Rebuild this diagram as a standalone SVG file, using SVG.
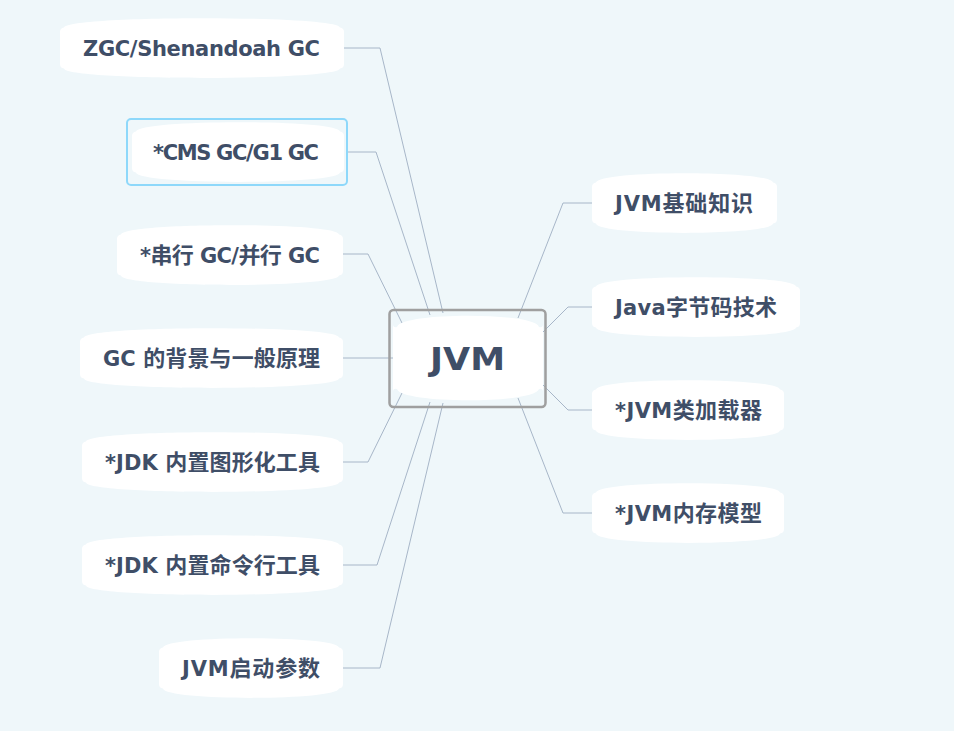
<svg xmlns="http://www.w3.org/2000/svg" width="954" height="731" viewBox="0 0 954 731">
<style>
.bg{fill:#EFF7FA}
.node{fill:#FFFFFF}
.lbl{font-family:"DejaVu Sans","Noto Sans CJK SC",sans-serif;font-weight:bold;font-size:21px;fill:#3F4E67}
.cjk{font-family:"Noto Sans CJK SC",sans-serif;font-size:22px;font-weight:bold}
.root{font-family:"DejaVu Sans","Noto Sans CJK SC",sans-serif;font-weight:bold;font-size:32px;fill:#3F4E67}
.conn{fill:none;stroke:#A7B6C8;stroke-width:1}
</style>
<rect class="bg" x="0" y="0" width="954" height="731"/>
<g id="connectors">
<polyline class="conn" points="344,48 380,48 443,313"/>
<polyline class="conn" points="347,152 376,152 430,315"/>
<polyline class="conn" points="343,254 368,254 402,323"/>
<polyline class="conn" points="343,358 393,358"/>
<polyline class="conn" points="343,462 368,462 402,393"/>
<polyline class="conn" points="343,565 377,565 430,402"/>
<polyline class="conn" points="343,668 380,668 443,403"/>
<polyline class="conn" points="592,203 563,203 518,318"/>
<polyline class="conn" points="592,307 568,307 543,332"/>
<polyline class="conn" points="592,410 568,410 543,385"/>
<polyline class="conn" points="592,513 563,513 518,398"/>
</g>
<g id="root">
<rect x="389.5" y="310" width="156" height="97" rx="4" fill="none" stroke="#9F9F9F" stroke-width="2.5"/>
<path class="node" d="M393,324 Q393,328 397,327 C401,312 535,312 539,327 Q543,328 543,324 L543,392 Q543,388 539,389 C535,404 401,404 397,389 Q393,388 393,392 Z"/>
<text class="root" x="430" y="370" textLength="75" lengthAdjust="spacingAndGlyphs">JVM</text>
</g>
<g id="n-zgc">
<path class="node" d="M60,32 Q60,28 64,27.5 C66,15 338,15 340,27.5 Q344,28 344,32 L344,64 Q344,68 340,68.5 C338,81 66,81 64,68.5 Q60,68 60,64 Z"/>
<text class="lbl" x="83" y="56" textLength="237" lengthAdjust="spacing">ZGC/Shenandoah GC</text>
</g>
<g id="n-cms">
<rect x="127" y="119" width="220" height="66" rx="4" fill="none" stroke="#8ED8FA" stroke-width="2"/>
<path class="node" d="M132,136 Q132,132 136,131.5 C138,119 338,119 340,131.5 Q344,132 344,136 L344,168 Q344,172 340,172.5 C338,185 138,185 136,172.5 Q132,172 132,168 Z"/>
<text class="lbl" x="153" y="160" textLength="166" lengthAdjust="spacing">*CMS GC/G1 GC</text>
</g>
<g id="n-serial">
<path class="node" d="M117,239 Q117,235 121,234.5 C123,222 337,222 339,234.5 Q343,235 343,239 L343,271 Q343,275 339,275.5 C337,288 123,288 121,275.5 Q117,275 117,271 Z"/>
<text class="lbl" x="140" y="263" textLength="180" lengthAdjust="spacing">*<tspan class="cjk">串行</tspan> GC/<tspan class="cjk">并行</tspan> GC</text>
</g>
<g id="n-gcbasic">
<path class="node" d="M80,342 Q80,338 84,337.5 C86,325 337,325 339,337.5 Q343,338 343,342 L343,374 Q343,378 339,378.5 C337,391 86,391 84,378.5 Q80,378 80,374 Z"/>
<text class="lbl" x="103" y="366" textLength="217" lengthAdjust="spacing">GC <tspan class="cjk">的背景与一般原理</tspan></text>
</g>
<g id="n-jdkgui">
<path class="node" d="M82,446 Q82,442 86,441.5 C88,429 337,429 339,441.5 Q343,442 343,446 L343,478 Q343,482 339,482.5 C337,495 88,495 86,482.5 Q82,482 82,478 Z"/>
<text class="lbl" x="105" y="470" textLength="215" lengthAdjust="spacing">*JDK <tspan class="cjk">内置图形化工具</tspan></text>
</g>
<g id="n-jdkcli">
<path class="node" d="M82,549 Q82,545 86,544.5 C88,532 337,532 339,544.5 Q343,545 343,549 L343,581 Q343,585 339,585.5 C337,598 88,598 86,585.5 Q82,585 82,581 Z"/>
<text class="lbl" x="105" y="573" textLength="215" lengthAdjust="spacing">*JDK <tspan class="cjk">内置命令行工具</tspan></text>
</g>
<g id="n-params">
<path class="node" d="M159,652 Q159,648 163,647.5 C165,635 337,635 339,647.5 Q343,648 343,652 L343,684 Q343,688 339,688.5 C337,701 165,701 163,688.5 Q159,688 159,684 Z"/>
<text class="lbl" x="182" y="676" textLength="138" lengthAdjust="spacing">JVM<tspan class="cjk">启动参数</tspan></text>
</g>
<g id="n-basic">
<path class="node" d="M592,187 Q592,183 596,182.5 C598,170 771,170 773,182.5 Q777,183 777,187 L777,219 Q777,223 773,223.5 C771,236 598,236 596,223.5 Q592,223 592,219 Z"/>
<text class="lbl" x="615" y="211" textLength="138" lengthAdjust="spacing">JVM<tspan class="cjk">基础知识</tspan></text>
</g>
<g id="n-bytecode">
<path class="node" d="M592,291 Q592,287 596,286.5 C598,274 794,274 796,286.5 Q800,287 800,291 L800,323 Q800,327 796,327.5 C794,340 598,340 596,327.5 Q592,327 592,323 Z"/>
<text class="lbl" x="615" y="315" textLength="162" lengthAdjust="spacing">Java<tspan class="cjk">字节码技术</tspan></text>
</g>
<g id="n-classloader">
<path class="node" d="M592,394 Q592,390 596,389.5 C598,377 778,377 780,389.5 Q784,390 784,394 L784,426 Q784,430 780,430.5 C778,443 598,443 596,430.5 Q592,430 592,426 Z"/>
<text class="lbl" x="615" y="418" textLength="147" lengthAdjust="spacing">*JVM<tspan class="cjk">类加载器</tspan></text>
</g>
<g id="n-memory">
<path class="node" d="M592,497 Q592,493 596,492.5 C598,480 778,480 780,492.5 Q784,493 784,497 L784,529 Q784,533 780,533.5 C778,546 598,546 596,533.5 Q592,533 592,529 Z"/>
<text class="lbl" x="615" y="521" textLength="147" lengthAdjust="spacing">*JVM<tspan class="cjk">内存模型</tspan></text>
</g>
</svg>
